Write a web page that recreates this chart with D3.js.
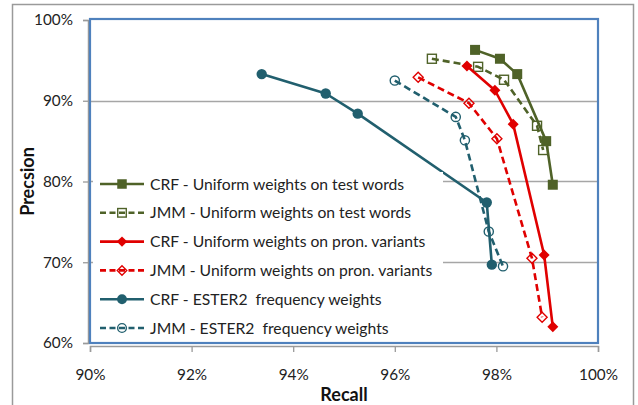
<!DOCTYPE html>
<html><head><meta charset="utf-8">
<script src="https://cdn.jsdelivr.net/npm/d3@7"></script>
<style>html,body{margin:0;padding:0;background:#fff;} svg{display:block;font-family:Lato,"Open Sans",sans-serif;}</style>
</head><body>
<script>
// ---- data ----
const seriesNames = [
  "CRF - Uniform weights on test words",
  "JMM - Uniform weights on test words",
  "CRF - Uniform weights on pron. variants",
  "JMM - Uniform weights on pron. variants",
  "CRF - ESTER2  frequency weights",
  "JMM - ESTER2  frequency weights"
];
const crfTestRecall    = [0.9758, 0.9807, 0.9841, 0.9898, 0.9911];
const crfTestPrecision = [0.963, 0.952, 0.933, 0.850, 0.796];
const jmmTestRecall    = [0.9673, 0.9764, 0.9815, 0.9880, 0.9892];
const jmmTestPrecision = [0.952, 0.942, 0.926, 0.869, 0.839];
const crfPronRecall    = [0.9742, 0.9797, 0.9833, 0.9894, 0.9911];
const crfPronPrecision = [0.943, 0.913, 0.871, 0.709, 0.620];
const jmmPronRecall    = [0.9646, 0.9746, 0.9801, 0.9870, 0.9890];
const jmmPronPrecision = [0.929, 0.897, 0.853, 0.705, 0.632];
const crfEsterRecall    = [0.9338, 0.9464, 0.9527, 0.9781, 0.9791];
const crfEsterPrecision = [0.933, 0.909, 0.884, 0.774, 0.697];
const jmmEsterRecall    = [0.9600, 0.9720, 0.9738, 0.9785, 0.9813];
const jmmEsterPrecision = [0.925, 0.880, 0.851, 0.738, 0.695];
const xTicks = [0.90, 0.92, 0.94, 0.96, 0.98, 1.00];
const yTicks = [0.60, 0.70, 0.80, 0.90, 1.00];

// ---- styles ----
const W = 638, H = 405;
const green = "#4F6228", red = "#E00000", teal = "#215F6E";
const styles = [
  {color: green, dash: null, shape: "square", filled: true},
  {color: green, dash: "7,4", shape: "square", filled: false},
  {color: red, dash: null, shape: "diamond", filled: true},
  {color: red, dash: "7,4", shape: "diamond", filled: false},
  {color: teal, dash: null, shape: "circle", filled: true},
  {color: teal, dash: "7,4", shape: "circle", filled: false}
];
const series = [
  [crfTestRecall, crfTestPrecision], [jmmTestRecall, jmmTestPrecision],
  [crfPronRecall, crfPronPrecision], [jmmPronRecall, jmmPronPrecision],
  [crfEsterRecall, crfEsterPrecision], [jmmEsterRecall, jmmEsterPrecision]
].map((s, i) => ({name: seriesNames[i], pts: s[0].map((r, j) => [r, s[1][j]]), ...styles[i]}));

const svg = d3.select("body").append("svg").attr("width", W).attr("height", H);
// outer chart border
svg.append("rect").attr("x", 12.5).attr("y", 4.5).attr("width", 621).attr("height", 420)
  .attr("fill", "#fff").attr("stroke", "#9A9A9A").attr("stroke-width", 1.5);

const L = 90, R = 598, T = 20, B = 343;
const x = d3.scaleLinear().domain([0.90, 1.00]).range([L, R]);
const y = d3.scaleLinear().domain([0.60, 1.00]).range([B, T]);

// gridlines
svg.append("g").selectAll("line").data(yTicks.filter(v => v > 0.6 && v < 1)).join("line")
  .attr("x1", L).attr("x2", R).attr("y1", d => Math.round(y(d)) + 0.5).attr("y2", d => Math.round(y(d)) + 0.5)
  .attr("stroke", "#A6A6A6").attr("stroke-width", 1.3);

// axes
const fmt = d3.format(".0%");
const xAxis = svg.append("g").attr("transform", `translate(0,${B + 3})`)
  .call(d3.axisBottom(x).tickValues(xTicks).tickFormat(fmt).tickSize(6).tickPadding(17));
const yAxis = svg.append("g").attr("transform", `translate(${L - 2},0)`)
  .call(d3.axisLeft(y).tickValues(yTicks).tickFormat(fmt).tickSize(5).tickPadding(10));
[xAxis, yAxis].forEach(a => {
  a.select(".domain").attr("stroke", "#9A9A9A").attr("stroke-width", 1.5);
  a.selectAll(".tick line").attr("stroke", "#9A9A9A").attr("stroke-width", 1.3);
  a.selectAll("text").attr("font-family", "Lato").attr("font-size", 15.3).attr("fill", "#222");
});

// plot-area border
svg.append("rect").attr("x", L).attr("y", T - 1).attr("width", R - L).attr("height", B - T + 1)
  .attr("fill", "none").attr("stroke", "#4F81BD").attr("stroke-width", 2.2);

// axis titles
svg.append("text").attr("x", (L + R) / 2).attr("y", 401).attr("text-anchor", "middle")
  .attr("font-family", "Lato").attr("font-weight", "bold").attr("font-size", 18).attr("fill", "#111").text("Recall");
svg.append("text").attr("transform", `translate(34,${(T + B) / 2}) rotate(-90)`).attr("text-anchor", "middle")
  .attr("font-family", "Lato").attr("font-weight", "bold").attr("font-size", 18).attr("fill", "#111").text("Precsion");

// marker helper
function marker(g, s, cx, cy, scale) {
  const k = scale || 1;
  const sw = s.filled ? 0 : 1.4;
  const fill = s.filled ? s.color : "none";
  if (s.shape === "square") {
    const a = (s.filled ? 10 : 9) * k;
    g.append("rect").attr("x", cx - a / 2).attr("y", cy - a / 2).attr("width", a).attr("height", a)
      .attr("fill", fill).attr("stroke", s.color).attr("stroke-width", sw);
  } else if (s.shape === "diamond") {
    const r = (s.filled ? 5.5 : 5) * k;
    g.append("path").attr("d", `M${cx},${cy - r}L${cx + r},${cy}L${cx},${cy + r}L${cx - r},${cy}Z`)
      .attr("fill", fill).attr("stroke", s.color).attr("stroke-width", sw);
  } else {
    const r = (s.filled ? 5.2 : 4.6) * k;
    g.append("circle").attr("cx", cx).attr("cy", cy).attr("r", r)
      .attr("fill", fill).attr("stroke", s.color).attr("stroke-width", sw);
  }
}

// series
const line = d3.line().x(d => x(d[0])).y(d => y(d[1]));
series.forEach(s => {
  const g = svg.append("g");
  g.append("path").attr("d", line(s.pts)).attr("fill", "none").attr("stroke", s.color)
    .attr("stroke-width", 2.6).attr("stroke-dasharray", s.dash).attr("stroke-linejoin", "round");
  s.pts.forEach(p => marker(g, s, x(p[0]), y(p[1])));
});

// legend
const lg = svg.append("g");
lg.append("rect").attr("x", 93).attr("y", 172).attr("width", 350).attr("height", 168).attr("fill", "#fff");
series.forEach((s, i) => {
  const yy = 184 + i * 28.8;
  lg.append("line").attr("x1", 100).attr("x2", 144).attr("y1", yy).attr("y2", yy)
    .attr("stroke", s.color).attr("stroke-width", 2.6).attr("stroke-dasharray", s.dash ? "6,3.5" : null);
  marker(lg, s, 122, yy, 0.95);
  lg.append("text").attr("x", 150).attr("y", yy + 5.5).attr("font-family", "Lato").attr("font-size", 15.7)
    .attr("fill", "#222").attr("xml:space", "preserve").style("white-space", "pre").text(s.name);
});
</script>
</body></html>
